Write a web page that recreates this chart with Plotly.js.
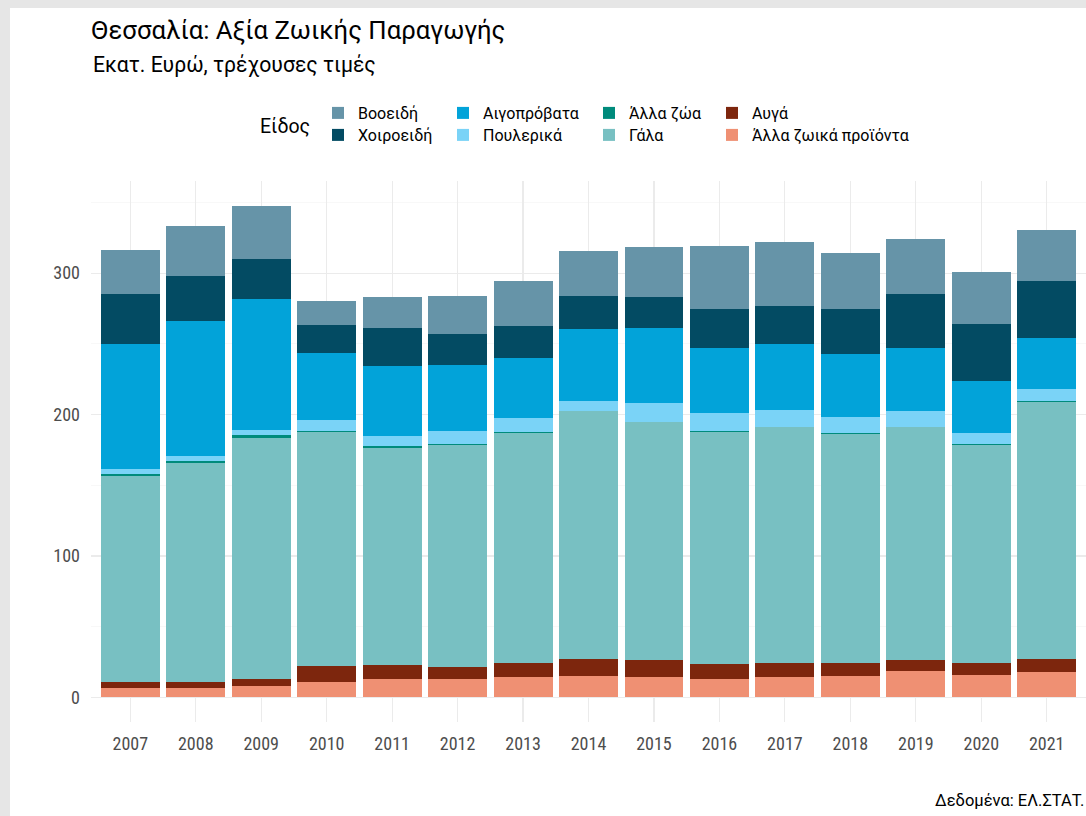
<!DOCTYPE html>
<html>
<head>
<meta charset="utf-8">
<script src="https://cdn.plot.ly/plotly-3.0.1.min.js"></script>
<style>
  html, body { margin: 0; padding: 0; background: #e6e6e6; width: 1086px; height: 816px; overflow: hidden; }
  #chart { position: absolute; left: 10px; top: 8px; width: 1076px; height: 808px; background: #fff; }
</style>
</head>
<body>
<div id="chart"></div>
<script>
const years = ["2007","2008","2009","2010","2011","2012","2013","2014","2015","2016","2017","2018","2019","2020","2021"];

// series values (εκατ. ευρώ)
const alla_zoika_proionta = [6.8, 6.8, 8.2, 10.6, 12.7, 12.7, 14.6, 15.1, 14.6, 13.1, 14.6, 15.1, 18.4, 15.8, 17.7];
const avga               = [4.0, 4.0, 4.5, 11.5, 10.1, 8.9, 9.6, 12.0, 11.8, 10.4, 9.4, 8.9, 8.2, 8.2, 9.2];
const gala               = [145.6, 155.0, 170.8, 165.4, 153.6, 156.7, 162.8, 175.4, 168.1, 164.4, 166.9, 162.5, 164.3, 154.8, 181.8];
const alla_zoa           = [1.4, 1.2, 1.7, 0.7, 1.0, 0.7, 0.5, 0.3, 0.3, 0.3, 0.3, 0.3, 0.3, 0.3, 0.9];
const poulerika          = [3.5, 3.8, 3.7, 7.6, 7.5, 9.2, 9.7, 6.8, 13.4, 12.8, 12.3, 11.5, 11.6, 7.7, 8.1];
const aigoprovata        = [88.9, 95.6, 92.8, 47.5, 49.4, 46.6, 42.8, 50.7, 53.0, 46.1, 46.2, 44.3, 44.3, 37.2, 36.2];
const choiroeidi         = [34.8, 31.3, 28.1, 19.8, 26.9, 21.9, 22.6, 23.8, 21.7, 27.7, 27.3, 32.0, 38.4, 40.3, 40.5];
const vooeidi            = [31.1, 35.9, 37.9, 17.2, 22.2, 27.4, 32.1, 31.8, 35.8, 44.6, 45.0, 39.9, 38.4, 36.5, 35.8];

const yTicks = [0, 100, 200, 300];

const FONT_C = "Roboto Condensed, Roboto, sans-serif";
const FONT_R = "Roboto, sans-serif";

// stacking order bottom -> top; legend slot = (column, row)
const series = [
  {name: "Άλλα ζωικά προϊόντα", y: alla_zoika_proionta, color: "#ef9073", col: 3, row: 1},
  {name: "Αυγά",                y: avga,                color: "#7d260d", col: 3, row: 0},
  {name: "Γάλα",                y: gala,                color: "#78c0c2", col: 2, row: 1},
  {name: "Άλλα ζώα",            y: alla_zoa,            color: "#008b7c", col: 2, row: 0},
  {name: "Πουλερικά",           y: poulerika,           color: "#7ad3f7", col: 1, row: 1},
  {name: "Αιγοπρόβατα",         y: aigoprovata,         color: "#02a3d9", col: 1, row: 0},
  {name: "Χοιροειδή",           y: choiroeidi,          color: "#034b63", col: 0, row: 1},
  {name: "Βοοειδή",             y: vooeidi,             color: "#6694a8", col: 0, row: 0}
];

// legend geometry (div pixels)
const PLOT_L = 81, PLOT_W = 995, DIV_W = 1076, DIV_H = 808;
const colTextX = [348, 473, 619, 742];   // where the item text starts
const rowY = [105, 127];                 // item centre

const traces = [];
const layoutLegends = {};
series.forEach((s, i) => {
  const id = "legend" + (i === 0 ? "" : (i + 1));
  traces.push({
    type: "bar",
    name: s.name,
    x: years,
    y: s.y,
    legend: id,
    marker: {color: s.color, line: {width: 0}},
    hovertemplate: "%{x}: %{y}<extra>" + s.name + "</extra>"
  });
  layoutLegends[id] = {
    orientation: "v",
    xref: "paper",
    x: (colTextX[s.col] - 40 - PLOT_L) / PLOT_W,
    xanchor: "left",
    yref: "container",
    y: 1 - rowY[s.row] / DIV_H,
    yanchor: "middle",
    bgcolor: "rgba(0,0,0,0)",
    borderwidth: 0,
    font: {family: FONT_R, size: 16, color: "#000"}
  };
});

const layout = Object.assign({
  width: DIV_W,
  height: DIV_H,
  paper_bgcolor: "#ffffff",
  plot_bgcolor: "#ffffff",
  margin: {l: 81, r: 0, t: 173, b: 94},
  barmode: "stack",
  bargap: 0.1,
  font: {family: FONT_C, color: "#4d4d4d"},
  title: {
    text: "Θεσσαλία: Αξία Ζωικής Παραγωγής",
    font: {family: FONT_R, size: 25.7, color: "#000"},
    xref: "container", x: 81/1076, xanchor: "left",
    yref: "container", y: 1 - 22/808, yanchor: "middle"
  },
  xaxis: {
    type: "category",
    range: [-0.6, 14.6],
    showgrid: true,
    gridcolor: "#ebebeb",
    gridwidth: 1.1,
    zeroline: false,
    showline: false,
    ticks: "",
    ticklabelstandoff: 9,
    tickfont: {family: FONT_C, size: 18, color: "#4d4d4d"},
    fixedrange: true
  },
  yaxis: {
    range: [-17.4, 365.1],
    tickvals: yTicks,
    ticktext: yTicks.map(String),
    showgrid: true,
    gridcolor: "#ebebeb",
    gridwidth: 1.1,
    minor: {dtick: 50, tick0: 0, showgrid: true, gridcolor: "#f4f4f4", gridwidth: 0.6},
    zeroline: false,
    showline: false,
    ticks: "",
    ticklabelstandoff: 10,
    tickfont: {family: FONT_C, size: 18, color: "#4d4d4d"},
    fixedrange: true
  },
  annotations: [
    {
      text: "Εκατ. Ευρώ, τρέχουσες τιμές",
      xref: "paper", x: 0, xanchor: "left",
      yref: "paper", y: (714 - 57) / 541, yanchor: "middle",
      showarrow: false,
      font: {family: FONT_R, size: 21.2, color: "#000"}
    },
    {
      text: "Είδος",
      xref: "paper", x: (248 - 81) / 995, xanchor: "left",
      yref: "paper", y: (714 - 118) / 541, yanchor: "middle",
      showarrow: false,
      font: {family: FONT_R, size: 19.5, color: "#000"}
    },
    {
      text: "Δεδομένα: ΕΛ.ΣΤΑΤ.",
      xref: "paper", x: 1, xanchor: "right",
      yref: "paper", y: (714 - 792) / 541, yanchor: "middle",
      showarrow: false,
      font: {family: FONT_R, size: 16.5, color: "#000"}
    }
  ],
  showlegend: true
}, layoutLegends);

Plotly.newPlot("chart", traces, layout, {displayModeBar: false, staticPlot: true});
</script>
</body>
</html>
